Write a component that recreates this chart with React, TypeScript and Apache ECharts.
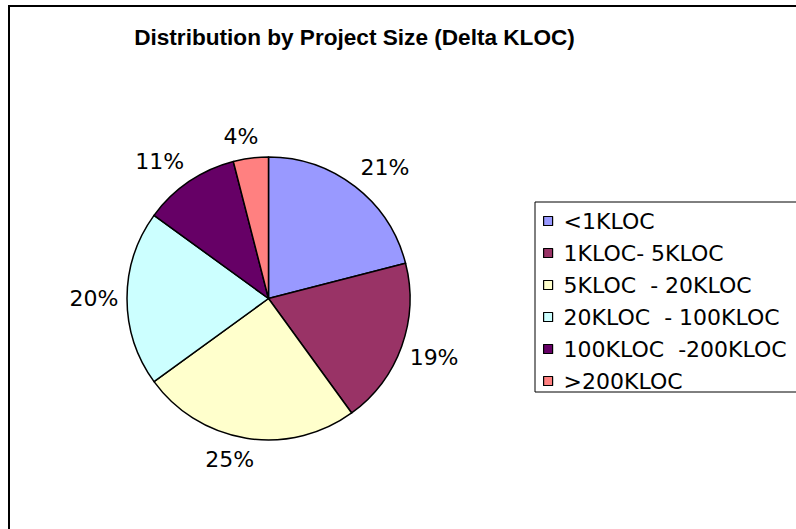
import React, { useEffect, useRef } from "react";
import * as echarts from "echarts";

const categories = [
  "<1KLOC",
  "1KLOC- 5KLOC",
  "5KLOC  - 20KLOC",
  "20KLOC  - 100KLOC",
  "100KLOC  -200KLOC",
  ">200KLOC",
];
const shares = [21, 19, 25, 20, 11, 4];
const colors = ["#9999FF", "#993366", "#FFFFCC", "#CCFFFF", "#660066", "#FF8080"];
const titleText = "Distribution by Project Size (Delta KLOC)";

const CX = 268.5;
const CY = 298.5;
const RADIUS = 141.5;

export default function App() {
  const ref = useRef<HTMLDivElement>(null);
  useEffect(() => {
    if (!ref.current) return;
    const chart = echarts.init(ref.current, null, { renderer: "svg" });
    const total = shares.reduce((a, b) => a + b, 0);
    chart.setOption({
      animation: false,
      backgroundColor: "#ffffff",
      title: {
        text: titleText,
        left: 354.5,
        top: 26,
        padding: 0,
        textAlign: "center",
        textStyle: {
          fontFamily: "Liberation Sans",
          fontWeight: "bold",
          fontSize: 22.6,
          color: "#000",
        },
      },
      legend: {
        orient: "vertical",
        left: 535,
        top: 202,
        padding: [8, 30, 0, 8],
        itemGap: 10,
        itemWidth: 9,
        itemHeight: 9,
        icon: "rect",
        borderColor: "#000",
        borderWidth: 1,
        selectedMode: false,
        itemStyle: { borderColor: "#000", borderWidth: 1.2 },
        textStyle: {
          fontFamily: "DejaVu Sans",
          fontSize: 22,
          lineHeight: 22,
          color: "#000",
          padding: [0, 0, 0, 6],
        },
        data: categories,
      },
      graphic: [
        {
          type: "rect",
          shape: { x: 9, y: 6, width: 900, height: 700 },
          style: { fill: "none", stroke: "#000", lineWidth: 2 },
          silent: true,
        },
      ],
      series: [
        {
          type: "pie",
          center: [CX, CY],
          radius: RADIUS,
          startAngle: 90,
          clockwise: true,
          silent: true,
          avoidLabelOverlap: false,
          itemStyle: { borderColor: "#000", borderWidth: 1.5 },
          label: {
            show: true,
            position: "outside",
            formatter: "{c}%",
            fontFamily: "DejaVu Sans",
            fontSize: 22,
            color: "#000",
          },
          labelLine: { show: false },
          labelLayout: (params: any) => {
            const i = params.dataIndex;
            let before = 0;
            for (let k = 0; k < i; k++) before += shares[k];
            const theta = ((before + shares[i] / 2) / total) * Math.PI * 2;
            const ux = Math.sin(theta);
            const uy = -Math.cos(theta);
            const w = params.labelRect.width;
            const h = 17;
            const R = RADIUS + 8.5;
            const x = CX + R * ux + (w / 2) * Math.sign(ux) * Math.min(1, 4 * Math.abs(ux));
            const y = CY + R * uy + (h / 2) * 1.5 * Math.sign(uy) * Math.min(1, 2 * Math.abs(uy));
            return { x, y, align: "center", verticalAlign: "middle" };
          },
          data: categories.map((name, i) => ({
            name,
            value: shares[i],
            itemStyle: { color: colors[i] },
          })),
        },
      ],
    });
    return () => chart.dispose();
  }, []);
  return (
    <div
      ref={ref}
      style={{ position: "absolute", left: 0, top: 0, width: 796, height: 529 }}
    />
  );
}
